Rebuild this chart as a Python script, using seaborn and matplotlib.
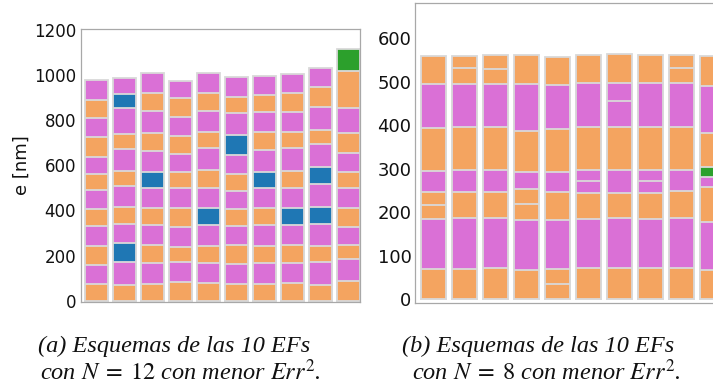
import numpy as np
import pandas as pd
import matplotlib
matplotlib.use("Agg")
import matplotlib.pyplot as plt
import seaborn as sns

# Layer thicknesses in nm, listed from the substrate upwards (one row per EF)
thick_n12 = [
    [72, 86, 83, 90, 77, 81, 74, 72, 89, 87, 78, 87],
    [70, 100, 84, 84, 77, 92, 68, 96, 66, 118, 59, 75],
    [75, 92, 78, 90, 74, 89, 74, 91, 80, 99, 77, 91],
    [83, 87, 66, 89, 84, 92, 71, 77, 81, 86, 80, 78],
    [80, 87, 77, 93, 74, 90, 77, 97, 71, 93, 83, 88],
    [74, 90, 84, 83, 75, 78, 77, 86, 86, 100, 68, 89],
    [72, 95, 75, 93, 74, 89, 74, 94, 83, 86, 76, 86],
    [77, 90, 78, 92, 74, 90, 75, 99, 74, 86, 84, 85],
    [71, 99, 72, 97, 77, 101, 74, 102, 63, 103, 86, 84],
    [89, 96, 62, 78, 84, 92, 71, 84, 86, 111, 167, 96],
]
# Material of each layer (same order): O / P / B / G
mats_n12 = [
    "OPOPOPOPOPOP",
    "OPBPOPOPOPBP",
    "OPOPOPBPOPOP",
    "OPOPOPOPOPOP",
    "OPOPBPOPOPOP",
    "OPOPOPOPBPOP",
    "OPOPOPBPOPOP",
    "OPOPBPOPOPOP",
    "OPOPBPBPOPOP",
    "OPOPOPOPOPOG",
]

thick_n8 = [
    [70, 114, 32, 31, 48, 98, 101, 65],
    [70, 116, 61, 50, 98, 99, 37, 29],
    [71, 115, 60, 51, 98, 99, 36, 31],
    [68, 115, 35, 35, 40, 94, 108, 66],
    [35, 35, 113, 64, 46, 98, 101, 65],
    [71, 114, 58, 28, 26, 99, 100, 65],
    [71, 115, 59, 52, 98, 61, 40, 67],
    [71, 113, 61, 26, 26, 99, 100, 65],
    [71, 115, 62, 49, 98, 101, 35, 31],
    [68, 109, 80, 23, 23, 80, 108, 67],
]
mats_n8 = [
    "OPOOPOPO",
    "OPOPOPOO",
    "OPOPOPOO",
    "OPOOPOPO",
    "OOPOPOPO",
    "OPOPPOPO",
    "OPOPOPPO",
    "OPOPPOPO",
    "OPOPOPOO",
    "OPOPGOPO",
]

yticks_n12 = [0, 200, 400, 600, 800, 1000, 1200]
yticks_n8 = [0, 100, 200, 300, 400, 500, 600]

palette = {"O": "#f4a460", "P": "#da70d6", "B": "#1f77b4", "G": "#2ca02c"}
EDGE = "#d9d9d9"
SPINE = "#a8a8a8"

sns.set_theme(style="white")
plt.rcParams["font.family"] = ["DejaVu Sans"]
plt.rcParams["mathtext.fontset"] = "stix"

W, H = 713, 389
fig = plt.figure(figsize=(W / 100, H / 100), dpi=100)


def px_axes(x0, y0, x1, y1):
    return fig.add_axes([x0 / W, 1 - y1 / H, (x1 - x0) / W, (y1 - y0) / H])


def draw_stacks(ax, thick, mats):
    labels = [str(i + 1) for i in range(len(thick))]
    tops = np.cumsum(np.array(thick, dtype=float), axis=1)
    # paint cumulative heights from the top layer down, so each lower layer
    # covers the part of the stack beneath its own upper interface
    for k in range(tops.shape[1] - 1, -1, -1):
        df = pd.DataFrame({"ef": labels,
                           "top": tops[:, k],
                           "mat": [m[k] for m in mats]})
        sns.barplot(data=df, x="ef", y="top", hue="mat", palette=palette,
                    order=labels, dodge=False, width=0.8, saturation=1,
                    errorbar=None, legend=False, edgecolor=EDGE,
                    linewidth=1.3, ax=ax)


def style(ax, yticks, ylim, xlim, fs, pad):
    ax.set_xlim(*xlim)
    ax.set_ylim(*ylim)
    ax.set_yticks(yticks)
    ax.set_xticks([])
    ax.set_xlabel("")
    ax.set_ylabel("")
    ax.tick_params(axis="y", length=0, labelsize=fs, pad=pad, labelcolor="#111111")
    for s in ax.spines.values():
        s.set_visible(True)
        s.set_color(SPINE)
        s.set_linewidth(0.9)


ax1 = px_axes(81, 29, 360, 302)
draw_stacks(ax1, thick_n12, mats_n12)
style(ax1, yticks_n12, (-6, 1204), (-0.55, 9.41), 12, 3.5)
ax1.set_ylabel("e [nm]", fontsize=13, labelpad=2, color="#111111")

ax2 = px_axes(415, 3, 731, 303)
draw_stacks(ax2, thick_n8, mats_n8)
style(ax2, yticks_n8, (-9, 681), (-0.6, 9.6), 13, 2.5)

cap = dict(ha="center", va="center", fontsize=17.5, family="Liberation Serif",
           style="italic", color="#111111")
fig.text(174 / W, 1 - 346 / H, "(a) Esquemas de las 10 EFs", **cap)
fig.text(180 / W, 1 - 372 / H, r"con $N\;=\;12$ con menor $Err^2$.", **cap)
fig.text(538 / W, 1 - 346 / H, "(b) Esquemas de las 10 EFs", **cap)
fig.text(546 / W, 1 - 372 / H, r"con $N\;=\;8$ con menor $Err^2$.", **cap)

fig.savefig("out.png", dpi=100)
